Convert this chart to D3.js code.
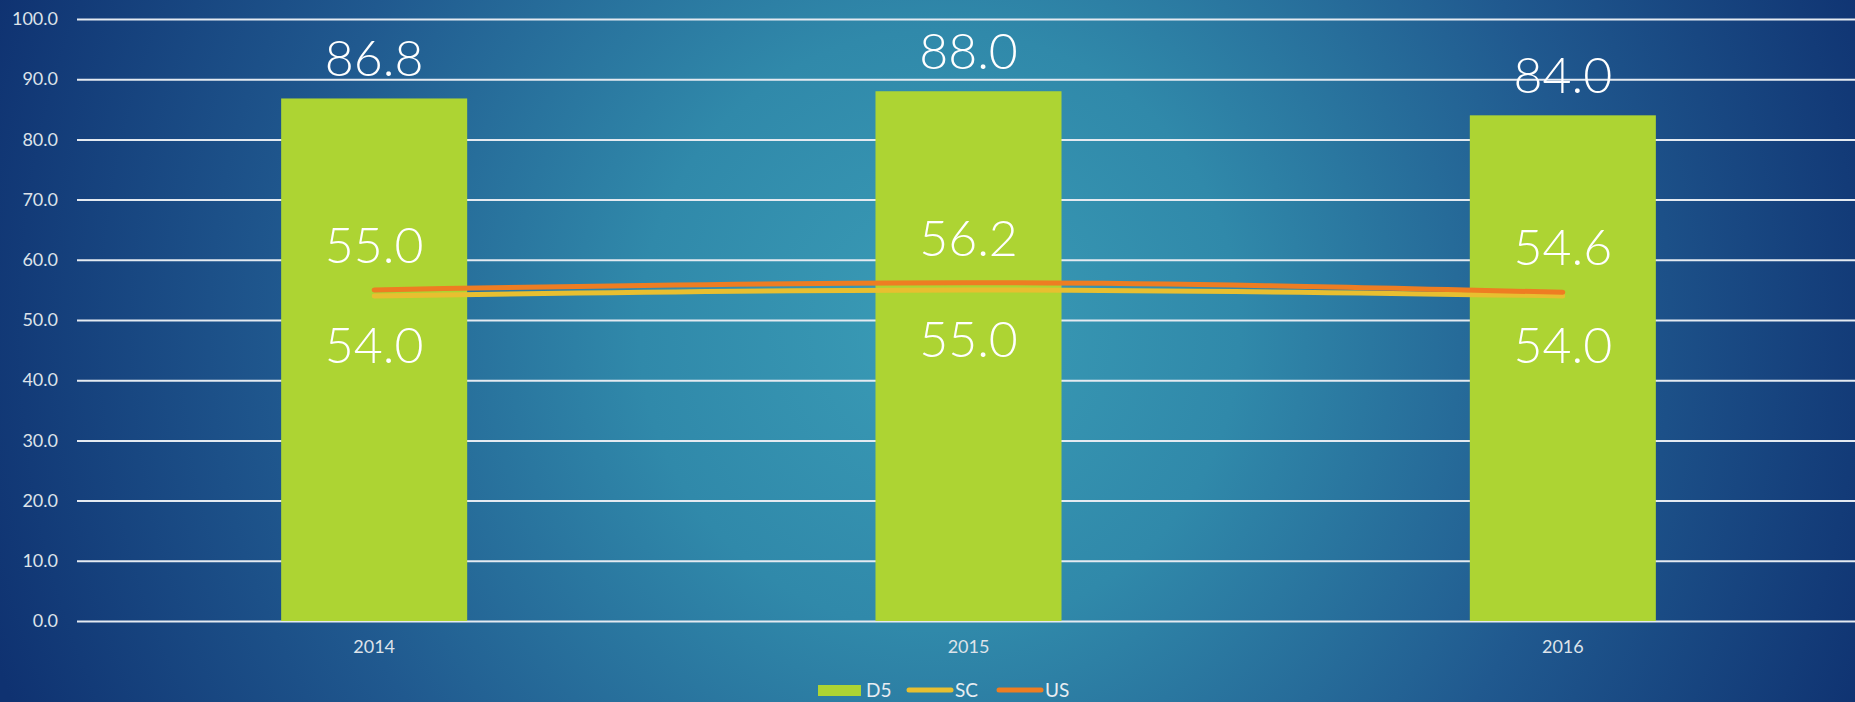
<!DOCTYPE html>
<html>
<head>
<meta charset="utf-8">
<script src="https://cdnjs.cloudflare.com/ajax/libs/d3/7.8.5/d3.min.js"></script>
<style>
  body { margin: 0; overflow: hidden; }
  text { font-family: Lato, "Open Sans", sans-serif; }
</style>
</head>
<body>
<script>
const years = ["2014", "2015", "2016"];
const d5 = [86.8, 88.0, 84.0];
const sc = [54.0, 55.0, 54.0];
const us = [55.0, 56.2, 54.6];
const yTicks = [0, 10, 20, 30, 40, 50, 60, 70, 80, 90, 100];
const legendItems = ["D5", "SC", "US"];

var width = 1855, height = 702;
var plot = {left: 77, right: 1860, top: 19, bottom: 621};

var svg = d3.select("body").append("svg")
  .attr("width", width)
  .attr("height", height);

// background
var defs = svg.append("defs");
var grad = defs.append("radialGradient")
  .attr("id", "bg")
  .attr("gradientUnits", "userSpaceOnUse")
  .attr("cx", 940).attr("cy", 330).attr("r", 1000);
grad.append("stop").attr("offset", "0").attr("stop-color", "#3a9cb6");
grad.append("stop").attr("offset", "0.3").attr("stop-color", "#3089aa");
grad.append("stop").attr("offset", "0.65").attr("stop-color", "#20598f");
grad.append("stop").attr("offset", "1").attr("stop-color", "#0f3271");
svg.append("rect").attr("width", width).attr("height", height).attr("fill", "url(#bg)");

var x = d3.scaleBand()
  .domain(years)
  .range([plot.left, plot.right])
  .paddingInner(0.687)
  .paddingOuter(0.3435);

var y = d3.scaleLinear()
  .domain([0, 100])
  .range([plot.bottom, plot.top]);

var cx = d => x(d) + x.bandwidth() / 2;

// y axis + gridlines
var yAxis = d3.axisLeft(y)
  .tickValues(yTicks)
  .tickFormat(d3.format(".1f"))
  .tickSizeInner(-(width - plot.left))
  .tickSizeOuter(0)
  .tickPadding(19);

var gy = svg.append("g")
  .attr("transform", "translate(" + plot.left + ",0)")
  .call(yAxis);
gy.select(".domain").remove();
gy.selectAll(".tick line").attr("stroke", "#e4eaf1").attr("stroke-width", 2);
gy.selectAll(".tick text")
  .attr("fill", "#dde3ea")
  .style("font-size", "18px");

// bars
svg.selectAll(".bar")
  .data(years)
  .join("rect")
  .attr("class", "bar")
  .attr("x", d => x(d))
  .attr("y", (d, i) => y(d5[i]))
  .attr("width", x.bandwidth())
  .attr("height", (d, i) => y(0) - y(d5[i]))
  .attr("fill", "#add433");

// x axis
var xAxis = d3.axisBottom(x).tickSize(0).tickPadding(19);
var gx = svg.append("g")
  .attr("transform", "translate(0," + plot.bottom + ")")
  .call(xAxis);
gx.select(".domain").remove();
gx.selectAll(".tick text")
  .attr("fill", "#dde3ea")
  .style("font-size", "18px");

// lines
var line = d3.line()
  .x((d, i) => cx(years[i]))
  .y(d => y(d))
  .curve(d3.curveMonotoneX);

svg.append("path")
  .datum(sc)
  .attr("d", line)
  .attr("fill", "none")
  .attr("stroke", "#e8bf30")
  .attr("stroke-width", 5)
  .attr("stroke-linecap", "round");

svg.append("path")
  .datum(us)
  .attr("d", line)
  .attr("fill", "none")
  .attr("stroke", "#ee7d22")
  .attr("stroke-width", 5)
  .attr("stroke-linecap", "round");

// data labels
var fmt = d3.format(".1f");
function labels(vals, offset) {
  svg.append("g").selectAll("text")
    .data(vals)
    .join("text")
    .attr("x", (d, i) => cx(years[i]))
    .attr("y", d => y(d) + offset)
    .attr("text-anchor", "middle")
    .attr("fill", "#ffffff")
    .style("font-size", "50px")
    .style("font-weight", 300)
    .text(d => fmt(d));
}
labels(d5, -22);
labels(us, -27);
labels(sc, 67);

// legend
var legend = svg.append("g");
var lx = [818, 907, 997];
var lcol = ["#add433", "#e8bf30", "#ee7d22"];
legendItems.forEach(function(name, i) {
  if (i === 0) {
    legend.append("rect")
      .attr("x", lx[i]).attr("y", 685)
      .attr("width", 43).attr("height", 11)
      .attr("fill", lcol[i]);
  } else {
    legend.append("line")
      .attr("x1", lx[i] + 2).attr("x2", lx[i] + 44)
      .attr("y1", 690).attr("y2", 690)
      .attr("stroke", lcol[i])
      .attr("stroke-width", 5)
      .attr("stroke-linecap", "round");
  }
  legend.append("text")
    .attr("x", lx[i] + 48)
    .attr("y", 697)
    .attr("fill", "#e8edf2")
    .style("font-size", "19px")
    .text(name);
});
</script>
</body>
</html>
